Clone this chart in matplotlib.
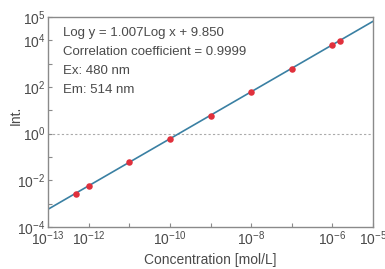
import numpy as np
import matplotlib
matplotlib.use("Agg")
import matplotlib.pyplot as plt

# data
conc = [5e-13, 1e-12, 1e-11, 1e-10, 1e-9, 1e-8, 1e-7, 1e-6, 1.5e-6]
intensity = [2.6e-3, 5.9e-3, 6.2e-2, 0.60, 6.0, 62, 620, 6.2e3, 9.1e3]
slope = 1.007
intercept = 9.850

xticks = [1e-13, 1e-12, 1e-10, 1e-8, 1e-6, 1e-5]
xticklabels = ["$10^{-13}$", "$10^{-12}$", "$10^{-10}$", "$10^{-8}$", "$10^{-6}$", "$10^{-5}$"]
yticks = [1e-4, 1e-2, 1, 1e2, 1e4, 1e5]
yticklabels = ["$10^{-4}$", "$10^{-2}$", "$10^{0}$", "$10^{2}$", "$10^{4}$", "$10^{5}$"]
info = ["Log y = 1.007Log x + 9.850", "Correlation coefficient = 0.9999",
        "Ex: 480 nm", "Em: 514 nm"]

plt.rcParams["font.family"] = ["Liberation Sans", "DejaVu Sans"]
plt.rcParams["mathtext.fontset"] = "custom"
plt.rcParams["mathtext.rm"] = "Liberation Sans"
plt.rcParams["mathtext.it"] = "Liberation Sans"

fig = plt.figure(figsize=(3.85, 2.69), dpi=100)
ax = fig.add_axes([48 / 385, 1 - 227 / 269, 325 / 385, 210 / 269])

txt = "#4a4a4a"
edge = "#8a8a8a"

# fit line
fx = np.array([1e-13, 1e-5])
fy = 10 ** (slope * np.log10(fx) + intercept)
ax.plot(fx, fy, color="#3a80a3", lw=1.2, zorder=2)
ax.axhline(1, color="#aaaaaa", lw=0.8, ls=(0, (2, 2)), zorder=1)
ax.scatter(conc, intensity, s=22, color="#e0303c", zorder=3, linewidths=0)

ax.set_xscale("log")
ax.set_yscale("log")
ax.set_xlim(1e-13, 1e-5)
ax.set_ylim(1e-4, 1e5)

ax.set_xticks([10.0 ** k for k in range(-13, -4)], minor=True)
ax.set_yticks([10.0 ** k for k in range(-4, 6)], minor=True)
ax.set_xticks(xticks)
ax.set_xticklabels(xticklabels)
ax.set_yticks(yticks)
ax.set_yticklabels(yticklabels)
ax.tick_params(which="both", direction="in", length=3, width=0.8, color=edge,
               labelcolor=txt, labelsize=10, pad=2)
ax.tick_params(which="minor", labelbottom=False, labelleft=False)

for s in ax.spines.values():
    s.set_color(edge)
    s.set_linewidth(1.0)

ax.set_xlabel("Concentration [mol/L]", color=txt, fontsize=10, labelpad=3)
ax.set_ylabel("Int.", color=txt, fontsize=10, va="center")
ax.yaxis.set_label_coords(-0.1, 0.53)

for i, line in enumerate(info):
    fig.text(63 / 385, 1 - (33 + 19 * i) / 269, line, color=txt, fontsize=9.5,
             va="center", ha="left")

fig.savefig("out.png", dpi=100)
